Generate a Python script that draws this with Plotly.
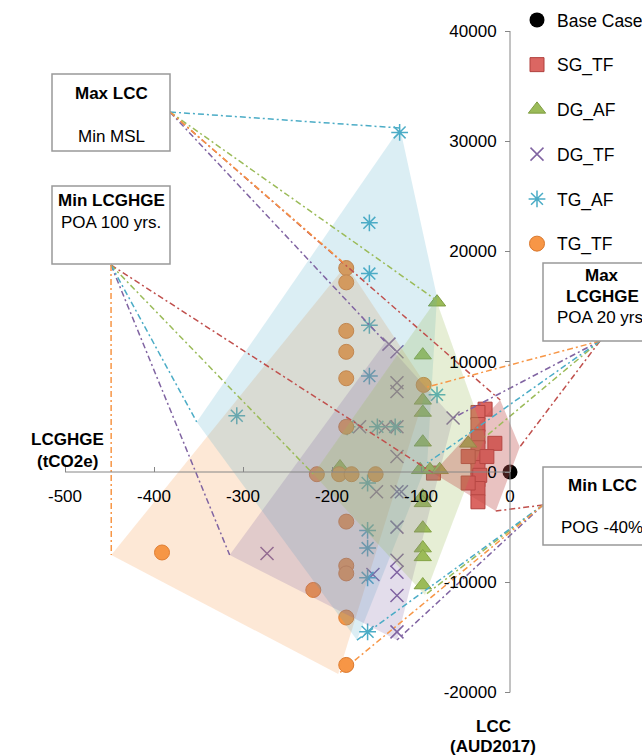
import plotly.graph_objects as go

# ---------------- data (LCGHGE in tCO2e, LCC in AUD2017) ----------------
base_x = [0]
base_y = [0]

sg_tf_x = [-28, -36, -36, -36, -36, -36, -36, -36, -17, -26, -34, -36, -36, -47, -47, -86]
sg_tf_y = [5700, 5400, 4300, 3200, 2200, 1300, 400, -700, 2600, 1400, -300, -1500, -2700, 1400, -1000, -100]

dg_af_x = [-82, -98, -98, -98, -98, -47, -101, -90, -79, -191, -98, -98, -98, -98, -98, -98]
dg_af_y = [15400, 10600, 6500, 5400, 2700, 2600, 200, 200, 200, 450, -2200, -2800, -5100, -6900, -7700, -10250]

dg_tf_x = [-136, -127, -127, -127, -64, -169, -140, -127, -127, -150, -127, -122, -127, -127, -154, -127, -127, -127, -273]
dg_tf_y = [11600, 10900, 8100, 7300, 4900, 4100, 4100, 4100, 1400, -1800, -1800, -1800, -5000, -8000, -9300, -9100, -11200, -14500, -7400]

tg_af_x = [-124, -158, -158, -158, -158, -307, -82, -183, -149, -129, -160, -160, -160, -160, -160]
tg_af_y = [30800, 22600, 18000, 13300, 8700, 5100, 7000, 4100, 4100, 4100, -1000, -5300, -6900, -9600, -14500]

tg_tf_x = [-184, -184, -184, -184, -184, -184, -97, -217, -192, -178, -151, -184, -184, -184, -221, -184, -184, -391]
tg_tf_y = [18500, 17200, 12800, 10900, 8500, 4100, 7900, -200, -200, -200, -200, -4500, -8500, -9200, -10700, -13200, -17500, -7300]

# envelope vertices of each option set: [max LCC, max LCGHGE, min LCC, min LCGHGE]
sg_tf_env_x = [-11, 11, -16, -86.5]
sg_tf_env_y = [6530, 2270, -3540, -90]
dg_af_env_x = [-83, -28, -95.5, -221]
dg_af_env_y = [15600, 3175, -11160, -180]
dg_tf_env_x = [-140, -64, -127, -315]
dg_tf_env_y = [11790, 4900, -15240, -7530]
tg_af_env_x = [-123.6, -93, -172, -352]
tg_af_env_y = [31200, 820, -15240, 4540]
tg_af_shoulder = (-82, 15870)   # extra outline point on the right flank
tg_tf_env_x = [-184, -93, -193, -448]
tg_tf_env_y = [18780, 7710, -18320, -7530]

x_ticks = [-500, -400, -300, -200, -100, 0]
y_ticks = [-20000, -10000, 0, 10000, 20000, 30000, 40000]

# ---------------- layout calibration ----------------
W, H = 642, 756
X0_PX, X_SCALE = 510.0, 0.89        # pixel of x=0, pixels per tCO2e
Y0_PX, Y_SCALE = 472.0, 0.011025    # pixel of y=0, pixels per AUD
x_range = [(0 - X0_PX) / X_SCALE, (W - X0_PX) / X_SCALE]
y_range = [(Y0_PX - H) / Y_SCALE, Y0_PX / Y_SCALE]


def to_data(px, py):
    return (px - X0_PX) / X_SCALE, (Y0_PX - py) / Y_SCALE


def px(xp):
    return xp / W


def py(yp):
    return 1 - yp / H


FONT = "Liberation Sans, Arial, sans-serif"
C_RED, C_GREEN, C_PURPLE, C_AQUA, C_ORANGE = "#C0504D", "#9BBB59", "#8064A2", "#4BACC6", "#F79646"

fig = go.Figure()

# ---------------- markers ----------------
fig.add_trace(go.Scatter(x=base_x, y=base_y, mode="markers", name="Base Case", legendgroup="a",
                         marker=dict(symbol="circle", size=15, color="#000000")))
fig.add_trace(go.Scatter(x=sg_tf_x, y=sg_tf_y, mode="markers", name="SG_TF", legendgroup="b",
                         marker=dict(symbol="square", size=14, color="#DB6662",
                                     line=dict(color="#B0403D", width=1))))
fig.add_trace(go.Scatter(x=dg_af_x, y=dg_af_y, mode="markers", name="DG_AF", legendgroup="c",
                         marker=dict(symbol="triangle-up", size=15, color="#9BBB59",
                                     line=dict(color="#7E9C40", width=1))))
fig.add_trace(go.Scatter(x=dg_tf_x, y=dg_tf_y, mode="markers", name="DG_TF", legendgroup="d",
                         marker=dict(symbol="x-thin-open", size=13, color=C_PURPLE,
                                     line=dict(color=C_PURPLE, width=1.5))))
fig.add_trace(go.Scatter(x=tg_af_x, y=tg_af_y, mode="markers", name="TG_AF", legendgroup="e",
                         marker=dict(symbol="asterisk-open", size=14, color=C_AQUA,
                                     line=dict(color=C_AQUA, width=1.5))))
fig.add_trace(go.Scatter(x=tg_tf_x, y=tg_tf_y, mode="markers", name="TG_TF", legendgroup="f",
                         marker=dict(symbol="circle", size=15, color="#F79646",
                                     line=dict(color="#D9782E", width=1))))

# ---------------- envelopes (drawn over the markers) ----------------
def envelope(xs, ys, fill):
    fig.add_trace(go.Scatter(x=xs + [xs[0]], y=ys + [ys[0]], mode="lines", fill="toself",
                             fillcolor=fill, line=dict(width=0), showlegend=False, hoverinfo="skip"))


envelope(tg_tf_env_x, tg_tf_env_y, "rgba(247,150,70,0.22)")
envelope([tg_af_env_x[0], tg_af_shoulder[0]] + tg_af_env_x[1:],
         [tg_af_env_y[0], tg_af_shoulder[1]] + tg_af_env_y[1:], "rgba(75,172,198,0.20)")
envelope(dg_tf_env_x, dg_tf_env_y, "rgba(128,100,162,0.22)")
envelope(dg_af_env_x, dg_af_env_y, "rgba(155,187,89,0.25)")
envelope(sg_tf_env_x, sg_tf_env_y, "rgba(192,80,77,0.35)")

# ---------------- connectors from the criterion boxes ----------------
anchors = [to_data(170, 112), to_data(600, 341), to_data(543, 505), to_data(111, 265)]
DASH = "6px,3px,2px,3px"
for ex, ey, col in [(sg_tf_env_x, sg_tf_env_y, C_RED), (dg_af_env_x, dg_af_env_y, C_GREEN),
                    (dg_tf_env_x, dg_tf_env_y, C_PURPLE), (tg_af_env_x, tg_af_env_y, C_AQUA),
                    (tg_tf_env_x, tg_tf_env_y, C_ORANGE)]:
    for k, (ax, ay) in enumerate(anchors):
        fig.add_trace(go.Scatter(x=[ax, ex[k]], y=[ay, ey[k]], mode="lines", showlegend=False,
                                 hoverinfo="skip", line=dict(color=col, width=1.5, dash=DASH)))

# ---------------- axis lines ----------------
shapes = [
    dict(type="line", xref="x", yref="y", x0=x_ticks[0], x1=x_ticks[-1], y0=0, y1=0,
         line=dict(color="#868686", width=1)),
    dict(type="line", xref="x", yref="y", x0=0, x1=0, y0=y_ticks[0], y1=y_ticks[-1],
         line=dict(color="#868686", width=1)),
]

# ---------------- criterion boxes (right-hand ones run off the page edge) ----------------
BOX_LINE = dict(color="#999999", width=1.5)
for x0, y0, x1, y1 in [(52, 74, 170, 151), (52, 186, 170, 264)]:
    shapes.append(dict(type="rect", xref="paper", yref="paper", x0=px(x0), x1=px(x1),
                       y0=py(y1), y1=py(y0), fillcolor="white", line=BOX_LINE, layer="above"))
for x0, y0, y1 in [(543, 263, 341), (543, 467, 545)]:
    path = "M {a},{t} L {l},{t} L {l},{b} L {a},{b}".format(a=px(W), l=px(x0), t=py(y0), b=py(y1))
    shapes.append(dict(type="path", xref="paper", yref="paper", path=path,
                       fillcolor="white", line=BOX_LINE, layer="above"))

texts = [
    ("<b>Max LCC</b>", 111, 94), ("Min MSL", 111, 136),
    ("<b>Min LCGHGE</b>", 111, 201), ("POA 100 yrs.", 111, 222),
    ("<b>Max</b>", 602, 275), ("<b>LCGHGE</b>", 602, 296), ("POA 20 yrs.", 602, 317),
    ("<b>Min LCC</b>", 602, 485), ("POG -40%", 602, 527),
    ("<b>LCGHGE</b>", 67, 439), ("<b>(tCO2e)</b>", 67, 461),
    ("<b>LCC</b>", 493, 726), ("<b>(AUD2017)</b>", 493, 746),
]
annotations = [dict(text=t, x=px(a), y=py(b), xref="paper", yref="paper", showarrow=False,
                    xanchor="center", yanchor="middle", font=dict(size=17, color="#000000", family=FONT))
               for t, a, b in texts]

fig.update_layout(
    width=W, height=H, autosize=False,
    margin=dict(l=0, r=0, t=0, b=0, pad=0, autoexpand=False),
    paper_bgcolor="white", plot_bgcolor="white",
    font=dict(family=FONT, size=17, color="#000000"),
    shapes=shapes, annotations=annotations,
    showlegend=True,
    legend=dict(x=px(517), y=py(2), xanchor="left", yanchor="top", bgcolor="rgba(0,0,0,0)",
                font=dict(size=17.5, family=FONT, color="#000000"), tracegroupgap=19,
                itemclick=False, itemdoubleclick=False),
    xaxis=dict(range=x_range, domain=[0, 1], anchor="free",
               position=(0 - y_range[0]) / (y_range[1] - y_range[0]),
               showgrid=False, zeroline=False, showline=False,
               tickmode="array", tickvals=x_ticks, ticktext=[str(v) for v in x_ticks],
               ticks="inside", ticklen=5, tickcolor="#868686", ticklabelstandoff=12,
               tickfont=dict(size=17, family=FONT, color="#000000")),
    yaxis=dict(range=y_range, domain=[0, 1], anchor="free",
               position=(0 - x_range[0]) / (x_range[1] - x_range[0]),
               showgrid=False, zeroline=False, showline=False, side="left",
               tickmode="array", tickvals=y_ticks, ticktext=[str(v) for v in y_ticks],
               ticks="outside", ticklen=5, tickcolor="#868686", ticklabelstandoff=5,
               tickfont=dict(size=17, family=FONT, color="#000000")),
)

fig.write_html(
    "out.html",
    config={"displayModeBar": False, "responsive": False},
    post_script="document.documentElement.style.overflow='hidden';"
                "document.body.style.margin='0';document.body.style.overflow='hidden';",
)
